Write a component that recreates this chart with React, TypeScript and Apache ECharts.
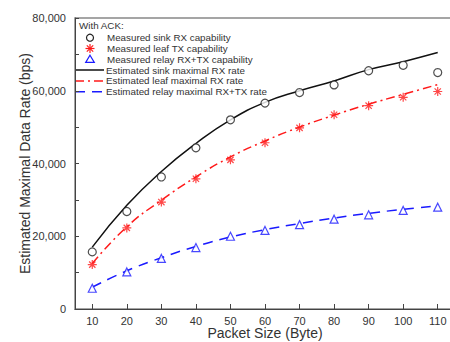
import React, { useEffect, useRef } from "react";
import * as echarts from "echarts";

const packetSizes = [10, 20, 30, 40, 50, 60, 70, 80, 90, 100, 110];
const sinkMeasured = [15700, 26800, 36300, 44300, 52000, 56600, 59500, 61600, 65500, 67000, 65000];
const leafMeasured = [12200, 22300, 29400, 35800, 41000, 45700, 49800, 53400, 55900, 58200, 59800];
const relayMeasured = [5700, 10200, 13900, 16900, 20000, 21600, 23200, 24700, 25900, 27100, 28000];
const sinkEstimated = [17000, 28500, 37800, 45500, 52000, 56800, 60000, 62700, 65800, 68000, 70500];
const leafEstimated = [12500, 22600, 29900, 36300, 41800, 46200, 50000, 53300, 56300, 59000, 61700];
const relayEstimated = [6000, 10500, 14100, 17200, 19800, 21800, 23500, 25000, 26300, 27400, 28400];
const xTicks = [10, 20, 30, 40, 50, 60, 70, 80, 90, 100, 110];

const legendTitle = "With ACK:";
const legendLabels = [
  "Measured sink RX capability",
  "Measured leaf TX capability",
  "Measured relay RX+TX capability",
  "Estimated sink maximal RX rate",
  "Estimated leaf maximal RX rate",
  "Estimated relay maximal RX+TX rate",
];

const BLACK = "#111";
const RED = "#ff1a1a";
const BLUE = "#1a1aff";
const asterisk = "path://M-5,0 L5,0 M0,-5 L0,5 M-3.5,-3.5 L3.5,3.5 M-3.5,3.5 L3.5,-3.5";
const redDash = [9, 4, 2, 4];
const blueDash = [10, 7];

const pairs = (ys: number[]) => packetSizes.map((x, i) => [x, ys[i]]);

export default function App() {
  const ref = useRef<HTMLDivElement>(null);
  useEffect(() => {
    if (!ref.current) return;
    const chart = echarts.init(ref.current, undefined, { renderer: "svg" });
    const font = "Liberation Sans, Arial, sans-serif";

    const lx = 75;
    const rowY = [37.7, 48.5, 59.2, 70, 80.9, 91.8];
    const sx = 90;
    const tx = 106;
    const textStyle = { fontSize: 9.8, fill: "#333", fontFamily: font, verticalAlign: "middle" as const };
    const legendGraphics: any[] = [
      { type: "text", x: 79, y: 25.7, style: { text: legendTitle, ...textStyle } },
      {
        type: "circle",
        shape: { cx: sx, cy: rowY[0], r: 3.5 },
        style: { fill: "#fff", stroke: "#222", lineWidth: 1.2 },
      },
      {
        type: "group",
        children: [
          { type: "line", shape: { x1: sx - 4.5, y1: rowY[1], x2: sx + 4.5, y2: rowY[1] }, style: { stroke: RED, lineWidth: 1.2 } },
          { type: "line", shape: { x1: sx, y1: rowY[1] - 4.5, x2: sx, y2: rowY[1] + 4.5 }, style: { stroke: RED, lineWidth: 1.2 } },
          { type: "line", shape: { x1: sx - 3.2, y1: rowY[1] - 3.2, x2: sx + 3.2, y2: rowY[1] + 3.2 }, style: { stroke: RED, lineWidth: 1.2 } },
          { type: "line", shape: { x1: sx - 3.2, y1: rowY[1] + 3.2, x2: sx + 3.2, y2: rowY[1] - 3.2 }, style: { stroke: RED, lineWidth: 1.2 } },
        ],
      },
      {
        type: "polygon",
        shape: { points: [[sx, rowY[2] - 4], [sx + 4.3, rowY[2] + 3.2], [sx - 4.3, rowY[2] + 3.2]] },
        style: { fill: "#fff", stroke: BLUE, lineWidth: 1.2 },
      },
      { type: "line", shape: { x1: lx, y1: rowY[3], x2: 104, y2: rowY[3] }, style: { stroke: BLACK, lineWidth: 1.5 } },
      { type: "line", shape: { x1: lx, y1: rowY[4], x2: 104, y2: rowY[4] }, style: { stroke: RED, lineWidth: 1.5, lineDash: redDash } },
      { type: "line", shape: { x1: lx, y1: rowY[5], x2: 104, y2: rowY[5] }, style: { stroke: BLUE, lineWidth: 1.5, lineDash: blueDash } },
      ...legendLabels.map((t, i) => ({
        type: "text",
        x: i < 3 ? tx + 1 : tx,
        y: rowY[i],
        style: { text: t, ...textStyle },
      })),
    ];

    chart.setOption({
      animation: false,
      backgroundColor: "#fff",
      textStyle: { fontFamily: font },
      grid: {
        left: 75,
        top: 18,
        width: 380,
        height: 291,
        outerBoundsMode: "none",
        containLabel: false,
        show: true,
        borderColor: "#888",
        borderWidth: 1.5,
        backgroundColor: "transparent",
      },
      xAxis: {
        type: "value",
        min: 5,
        max: 115,
        name: "Packet Size (Byte)",
        nameLocation: "middle",
        nameMoveOverlap: false,
        nameGap: 17,
        nameTextStyle: { fontSize: 14, color: "#333", fontFamily: font, verticalAlign: "top" },
        axisLine: { show: true, lineStyle: { color: "#444", width: 1 } },
        axisTick: { show: true, inside: true, length: 5, customValues: xTicks, lineStyle: { color: "#444" } },
        axisLabel: { customValues: xTicks, fontSize: 11, color: "#333", margin: 6, fontFamily: font },
        splitLine: { show: false },
      },
      yAxis: {
        type: "value",
        min: 0,
        max: 80000,
        interval: 20000,
        name: "Estimated Maximal Data Rate (bps)",
        nameLocation: "middle",
        nameMoveOverlap: false,
        nameGap: 43,
        nameTextStyle: { fontSize: 14, color: "#333", fontFamily: font },
        axisLine: { show: true, lineStyle: { color: "#444", width: 1 } },
        axisTick: { show: true, inside: true, length: 4, lineStyle: { color: "#444" } },
        minorTick: { show: true, splitNumber: 2, length: 4, lineStyle: { color: "#444" } },
        axisLabel: {
          fontSize: 11,
          color: "#333",
          margin: 9,
          fontFamily: font,
          formatter: (v: number) => v.toLocaleString("en-US"),
        },
        splitLine: { show: false },
      },
      graphic: legendGraphics,
      series: [
        {
          name: legendLabels[3],
          type: "line",
          data: pairs(sinkEstimated),
          smooth: true,
          symbol: "none",
          lineStyle: { color: BLACK, width: 1.5, type: "solid" },
          itemStyle: { color: BLACK },
          z: 2,
        },
        {
          name: legendLabels[4],
          type: "line",
          data: pairs(leafEstimated),
          smooth: true,
          symbol: "none",
          lineStyle: { color: RED, width: 1.5, type: redDash },
          itemStyle: { color: RED },
          z: 2,
        },
        {
          name: legendLabels[5],
          type: "line",
          data: pairs(relayEstimated),
          smooth: true,
          symbol: "none",
          lineStyle: { color: BLUE, width: 1.5, type: blueDash },
          itemStyle: { color: BLUE },
          z: 2,
        },
        {
          name: legendLabels[0],
          type: "scatter",
          data: pairs(sinkMeasured),
          symbol: "circle",
          symbolSize: 8,
          itemStyle: { color: "#fff", borderColor: "#222", borderWidth: 1.2 },
          z: 3,
        },
        {
          name: legendLabels[1],
          type: "scatter",
          data: pairs(leafMeasured),
          symbol: asterisk,
          symbolSize: 9,
          itemStyle: { color: "rgba(0,0,0,0)", borderColor: RED, borderWidth: 1.2 },
          z: 3,
        },
        {
          name: legendLabels[2],
          type: "scatter",
          data: pairs(relayMeasured),
          symbol: "triangle",
          symbolSize: 8,
          itemStyle: { color: "#fff", borderColor: BLUE, borderWidth: 1.2 },
          z: 3,
        },
      ],
    });
    return () => chart.dispose();
  }, []);
  return <div ref={ref} style={{ position: "absolute", left: 0, top: 0, width: 450, height: 342 }} />;
}
